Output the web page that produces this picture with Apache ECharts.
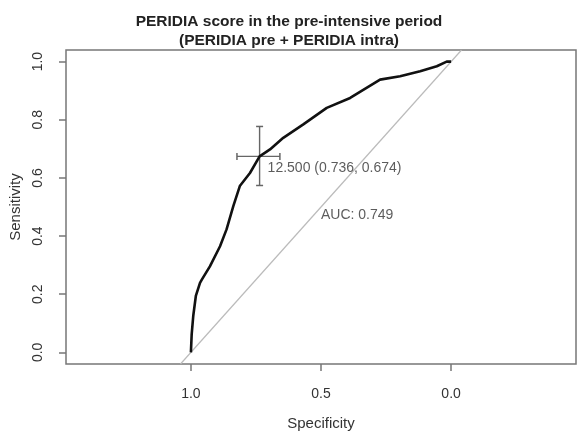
<!DOCTYPE html>
<html>
<head>
<meta charset="utf-8">
<script src="https://cdn.jsdelivr.net/npm/echarts@6/dist/echarts.min.js"></script>
<style>html,body{margin:0;padding:0;background:#fff}#c{width:578px;height:431px}</style>
</head>
<body>
<div id="c"></div>
<script>
// ROC curve (specificity, sensitivity)
const rocSpec = [1.000, 0.997, 0.991, 0.981, 0.965, 0.958, 0.927, 0.888, 0.863, 0.837, 0.812, 0.773, 0.736, 0.696, 0.645, 0.568, 0.478, 0.388, 0.273, 0.196, 0.119, 0.055, 0.017, 0.000];
const rocSens = [0.000, 0.062, 0.125, 0.194, 0.239, 0.250, 0.296, 0.365, 0.423, 0.503, 0.572, 0.617, 0.674, 0.698, 0.738, 0.784, 0.841, 0.875, 0.938, 0.950, 0.967, 0.984, 1.000, 1.000];
const diagSpec = [1.04, -0.04];
const diagSens = [-0.04, 1.04];
const bestThreshold = 12.5;
const bestPoint = [0.736, 0.674];
const ciSpec = [0.823, 0.658];
const ciSens = [0.777, 0.574];
const aucValue = 0.749;
const tickValues = [0, 0.2, 0.4, 0.6, 0.8, 1.0];
const xTickValues = [1.0, 0.5, 0.0];

const pairs = (xs, ys) => xs.map((x, i) => [x, ys[i]]);
const font = 'Liberation Sans, Arial, sans-serif';

const chart = echarts.init(document.getElementById('c'), null, {renderer: 'canvas'});
chart.setOption({
  animation: false,
  title: {
    text: 'PERIDIA score in the pre-intensive period\n(PERIDIA pre + PERIDIA intra)',
    left: 'center', top: 7,
    textStyle: {fontFamily: font, fontSize: 15.5, fontWeight: 'bold', color: '#222', lineHeight: 19}
  },
  grid: {left: 66, right: 2, top: 50, bottom: 67, outerBoundsMode: 'none', containLabel: false,
    show: true, borderColor: '#777', borderWidth: 1.5, backgroundColor: '#fff'},
  xAxis: {
    type: 'value', inverse: true, min: -0.48, max: 1.48,
    name: 'Specificity', nameLocation: 'middle', nameGap: 52,
    nameTextStyle: {fontFamily: font, fontSize: 15, color: '#333'},
    splitLine: {show: false}, axisLine: {show: false, onZero: false},
    axisTick: {show: true, length: 7, customValues: xTickValues, lineStyle: {color: '#777', width: 1.5}},
    axisLabel: {customValues: xTickValues, margin: 23, fontFamily: font, fontSize: 14, color: '#333', formatter: v => v.toFixed(1)}
  },
  yAxis: {
    type: 'value', min: -0.04, max: 1.04,
    name: 'Sensitivity', nameLocation: 'middle', nameGap: 43,
    nameTextStyle: {fontFamily: font, fontSize: 15, color: '#333'},
    splitLine: {show: false}, axisLine: {show: false, onZero: false},
    axisTick: {show: true, length: 7, customValues: tickValues, lineStyle: {color: '#777', width: 1.5}},
    axisLabel: {customValues: tickValues, rotate: 90, margin: 21, fontFamily: font, fontSize: 14, color: '#333', formatter: v => v.toFixed(1)}
  },
  series: [
    {type: 'line', data: pairs(diagSpec, diagSens), showSymbol: false, lineStyle: {color: '#bbb', width: 1.2}, z: 1, silent: true},
    {type: 'line', data: pairs(rocSpec, rocSens), showSymbol: false, smooth: false, lineStyle: {color: '#111', width: 2.6}, z: 3},
    {type: 'line', data: [[ciSpec[0], bestPoint[1]], [ciSpec[1], bestPoint[1]]], symbol: 'rect', symbolSize: [1.5, 7], showSymbol: true,
      itemStyle: {color: '#666'}, lineStyle: {color: '#666', width: 1.4}, z: 2},
    {type: 'line', data: [[bestPoint[0], ciSens[0]], [bestPoint[0], ciSens[1]]], symbol: 'rect', symbolSize: [7, 1.5], showSymbol: true,
      itemStyle: {color: '#666'}, lineStyle: {color: '#666', width: 1.4}, z: 2},
    {type: 'scatter', data: [bestPoint], symbolSize: 0, z: 4,
      label: {show: true, position: 'inside', align: 'left', verticalAlign: 'top', offset: [8, 5],
        fontFamily: font, fontSize: 14, color: '#333',
        formatter: () => bestThreshold.toFixed(3) + ' (' + bestPoint[0].toFixed(3) + ', ' + bestPoint[1].toFixed(3) + ')'}},
    {type: 'scatter', data: [[0.5, 0.5]], symbolSize: 0, z: 4,
      label: {show: true, position: 'inside', align: 'left', verticalAlign: 'top', offset: [0, 1],
        fontFamily: font, fontSize: 14, color: '#333', formatter: () => 'AUC: ' + aucValue.toFixed(3)}}
  ]
});
</script>
</body>
</html>
